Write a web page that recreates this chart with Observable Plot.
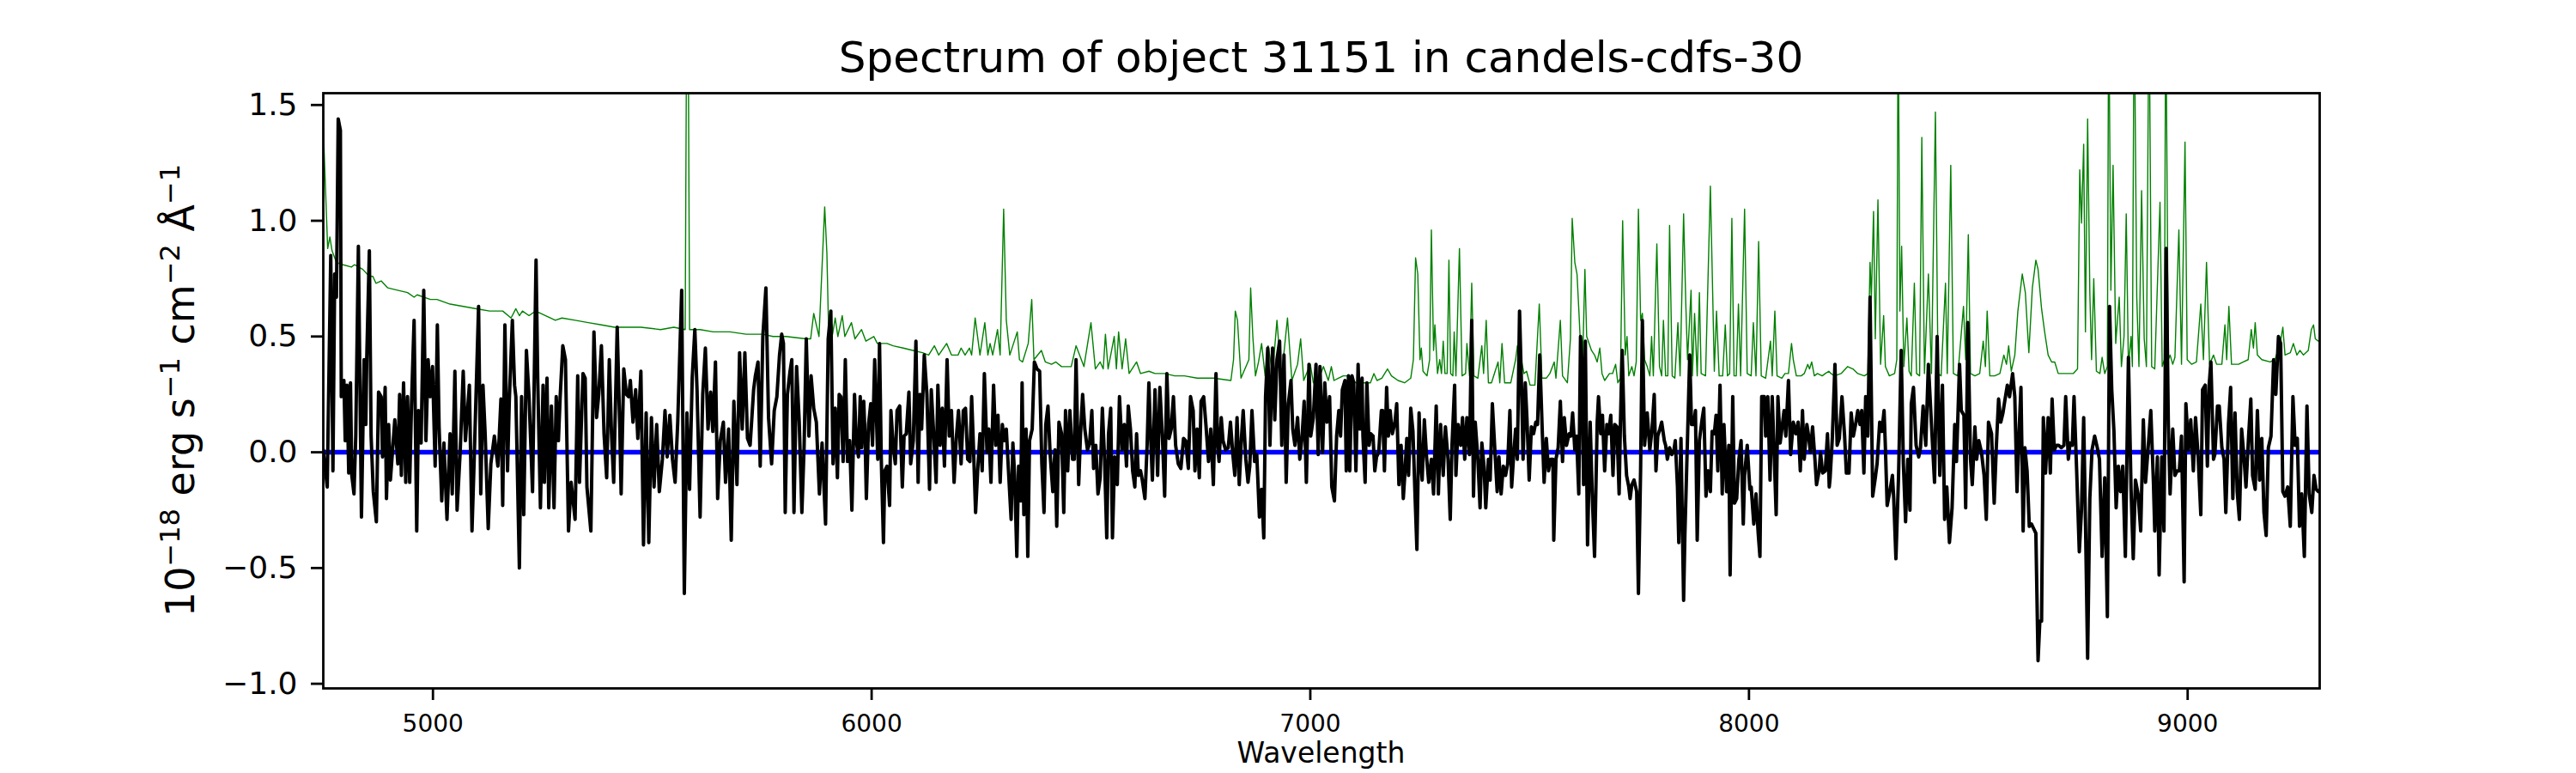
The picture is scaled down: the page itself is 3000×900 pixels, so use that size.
<!DOCTYPE html>
<html><head><meta charset="utf-8">
<script src="https://cdn.jsdelivr.net/npm/d3@7"></script>
<script src="https://cdn.jsdelivr.net/npm/@observablehq/plot@0.6"></script>
<style>html,body{margin:0;padding:0;background:#fff}</style>
</head><body><div id="chart"></div>
<script>
const titleText = "Spectrum of object 31151 in candels-cdfs-30";
const xLabelText = "Wavelength";
const xTicks = [5000, 6000, 7000, 8000, 9000];
const yTicks = [-1, -0.5, 0, 0.5, 1, 1.5];
const xDomain = [4750, 9301];
const yDomain = [-1.02, 1.551];

// black: observed flux [wavelength, flux]
const spectrumFlux = [
[4750,0.01],[4759,-0.15],[4767,0.85],[4772,-0.08],[4776,0.77],[4780,0.67],[4784,1.44],[4789,1.39],[4791,0.24],[4797,0.31],
[4800,0.05],[4804,0.29],[4808,-0.09],[4812,0.30],[4815,-0.10],[4820,-0.18],[4824,0.07],[4830,0.89],[4837,-0.28],[4843,0.40],
[4847,0.12],[4849,0.40],[4855,0.87],[4859,0.07],[4864,-0.17],[4871,-0.30],[4876,0.26],[4882,0.24],[4885,-0.02],[4891,0.28],
[4894,-0.20],[4899,0.12],[4903,-0.12],[4913,0.14],[4920,-0.05],[4924,0.25],[4928,-0.10],[4933,0.30],[4938,-0.13],[4942,0.24],
[4947,-0.13],[4951,0.20],[4957,0.57],[4963,-0.34],[4967,0.18],[4973,0.04],[4979,0.70],[4984,0.05],[4989,0.40],[4994,0.24],
[4999,0.37],[5005,-0.06],[5010,0.55],[5014,0.11],[5020,-0.21],[5025,0.04],[5032,-0.29],[5039,0.08],[5044,-0.18],[5050,0.35],
[5055,-0.25],[5062,0.00],[5069,0.35],[5074,0.05],[5083,0.29],[5089,-0.34],[5094,-0.03],[5104,0.63],[5109,-0.18],[5114,0.29],
[5119,0.08],[5126,-0.33],[5132,-0.05],[5140,0.07],[5148,-0.06],[5155,0.23],[5159,-0.23],[5164,0.55],[5170,-0.08],[5174,0.22],
[5181,0.57],[5186,0.29],[5189,0.24],[5197,-0.50],[5202,0.24],[5207,-0.27],[5213,0.44],[5219,0.24],[5227,-0.17],[5235,0.83],
[5239,0.30],[5245,-0.24],[5251,0.29],[5254,-0.13],[5260,0.32],[5264,-0.24],[5270,0.20],[5276,-0.24],[5281,0.24],[5286,0.05],
[5290,0.24],[5296,0.46],[5302,0.40],[5309,-0.34],[5315,-0.13],[5324,-0.29],[5330,0.33],[5334,-0.13],[5342,0.34],[5347,0.32],
[5351,-0.15],[5360,-0.34],[5367,0.52],[5373,0.15],[5378,0.25],[5384,0.46],[5390,0.08],[5396,-0.11],[5402,0.40],[5407,0.08],
[5412,-0.13],[5420,0.54],[5426,0.10],[5429,-0.18],[5435,0.36],[5441,0.25],[5446,0.24],[5450,0.31],[5456,0.13],[5462,0.27],
[5467,0.06],[5474,0.35],[5480,-0.40],[5486,0.17],[5492,-0.39],[5498,0.15],[5504,-0.15],[5510,0.12],[5516,-0.17],[5523,-0.03],
[5529,0.18],[5534,-0.02],[5540,0.16],[5546,-0.03],[5552,-0.13],[5558,0.13],[5567,0.70],[5573,-0.61],[5579,0.17],[5585,-0.16],
[5591,0.32],[5597,0.53],[5602,0.27],[5609,-0.28],[5615,0.25],[5621,0.45],[5627,0.10],[5633,0.26],[5638,0.09],[5644,0.39],
[5649,-0.20],[5655,0.05],[5662,0.13],[5667,-0.13],[5674,0.10],[5680,-0.38],[5686,0.22],[5693,-0.14],[5699,0.43],[5705,0.10],
[5711,0.43],[5717,0.06],[5723,0.03],[5731,0.27],[5735,0.33],[5741,0.39],[5746,-0.06],[5752,0.50],[5759,0.71],[5765,0.15],
[5772,-0.05],[5778,0.18],[5784,0.24],[5790,0.42],[5795,0.51],[5799,0.47],[5803,-0.26],[5808,0.25],[5814,0.35],[5818,0.40],
[5823,-0.26],[5829,0.37],[5835,0.13],[5841,-0.26],[5846,0.02],[5851,0.49],[5857,0.07],[5862,0.33],[5868,0.19],[5874,0.13],
[5881,-0.18],[5887,0.04],[5895,-0.31],[5901,0.49],[5907,0.61],[5912,-0.05],
[5917,0.19],[5922,-0.11],[5926,0.25],[5930,0.24],[5935,-0.04],[5940,0.40],[5945,-0.04],[5950,0.05],[5955,-0.25],[5961,0.25],
[5965,0.05],[5970,-0.02],[5974,0.24],[5977,0.02],[5982,0.22],[5985,0.07],[5988,-0.20],[5993,0.12],[5998,0.21],[6002,0.03],
[6007,0.40],[6011,0.15],[6014,-0.03],[6018,0.47],[6022,-0.03],[6027,-0.39],[6030,-0.08],[6035,-0.06],[6041,-0.23],[6044,0.18],
[6049,0.03],[6054,-0.05],[6058,0.18],[6064,0.20],[6070,-0.15],[6074,0.07],[6079,0.08],[6085,0.26],[6089,-0.05],[6095,0.05],
[6101,0.48],[6106,-0.13],[6110,0.25],[6114,0.10],[6120,0.42],[6126,0.25],[6132,-0.16],[6136,0.27],[6142,0.06],[6147,-0.13],
[6151,0.29],[6156,0.03],[6161,0.19],[6166,-0.06],[6172,0.40],[6177,0.07],[6182,0.18],[6188,-0.13],[6193,0.06],[6198,0.18],
[6204,-0.05],[6209,0.18],[6214,0.19],[6219,-0.03],[6224,-0.04],[6228,0.24],[6232,0.03],[6237,-0.26],[6242,-0.07],[6247,0.08],
[6252,-0.08],[6257,0.34],[6263,0.00],[6267,0.10],[6272,-0.13],[6278,0.29],[6283,0.03],[6288,0.16],[6293,-0.13],[6298,0.12],
[6302,0.05],[6307,0.10],[6312,-0.08],[6318,-0.29],[6322,0.04],[6326,-0.10],[6331,-0.45],[6335,-0.06],[6340,-0.21],[6343,0.30],
[6347,-0.27],[6352,0.10],[6356,-0.45],[6360,0.05],[6366,0.10],[6371,0.39],[6377,0.36],[6383,0.35],[6388,-0.05],[6393,-0.26],
[6397,0.12],[6402,0.20],[6407,-0.01],[6413,-0.17],[6418,0.01],[6422,-0.32],[6427,0.13],[6433,0.08],[6438,-0.26],[6442,0.18],
[6447,-0.08],[6452,0.18],[6458,-0.03],[6462,-0.03],[6466,0.40],[6472,-0.14],[6476,0.07],[6481,0.25],[6486,0.10],[6492,0.01],
[6497,0.04],[6502,0.18],[6506,-0.07],[6511,0.03],[6516,-0.18],[6521,-0.11],[6526,0.19],[6531,-0.03],[6536,-0.37],[6540,0.08],
[6545,0.19],[6549,-0.37],[6554,-0.02],[6560,-0.14],[6565,0.24],[6571,0.01],[6576,0.12],[6581,-0.06],[6585,0.20],[6590,0.10],
[6595,-0.08],[6600,-0.15],[6604,0.08],[6608,-0.10],[6613,-0.08],[6617,-0.12],[6623,-0.20],[6628,0.03],[6632,0.30],[6636,0.07],
[6640,-0.12],[6646,0.27],[6652,-0.10],[6657,0.28],[6663,0.06],[6668,-0.19],[6673,0.34],[6678,0.06],[6683,0.10],[6688,0.24],
[6693,0.03],[6699,-0.05],[6705,-0.07],[6711,0.06],[6716,0.05],[6722,-0.07],[6727,0.24],[6733,0.18],[6737,-0.08],[6742,0.10],
[6747,-0.11],[6751,0.22],[6757,0.24],[6762,0.12],[6768,-0.04],[6773,0.10],[6779,-0.14],[6785,0.34],[6789,0.02],[6792,-0.04],
[6797,0.15],[6801,0.05],[6807,0.01],[6813,0.02],[6818,0.13],[6823,0.00],[6828,-0.10],[6833,0.15],[6838,-0.14],[6843,0.06],
[6847,0.18],[6853,-0.03],[6858,-0.13],[6862,-0.06],[6867,0.18],[6873,-0.04],[6878,-0.01],[6884,-0.28],[6889,-0.16],[6894,-0.37],
[6898,0.24],[6903,0.45],[6908,0.03],[6914,0.45],[6919,0.14],[6924,0.40],[6930,0.48],[6935,0.03],[6940,0.42],[6945,-0.13],
[6950,0.21],[6956,0.31],[6960,0.10],[6965,0.03],[6971,0.15],[6976,-0.03],[6981,0.06],[6986,0.22],[6991,-0.13],[6997,0.38],
[7001,0.07],[7007,0.15],[7013,0.38],[7018,-0.01],[7022,0.37],[7028,0.00],[7033,0.30],[7038,0.13],[7044,0.24],[7049,-0.15],
[7055,-0.21],[7060,0.07],[7065,0.18],[7069,0.07],[7073,0.27],[7079,0.31],[7082,-0.08],[7087,0.33],[7090,-0.08],[7095,0.33],
[7099,0.30],[7104,-0.08],[7109,0.38],[7113,0.10],[7118,0.32],[7120,0.07],[7125,-0.13],[7129,0.30],[7134,0.03],[7138,0.08],
[7143,0.07],[7147,-0.08],[7151,-0.02],[7156,0.00],[7162,0.18],[7165,0.18],[7169,-0.08],[7174,0.28],[7178,0.07],[7182,0.18],
[7187,0.08],[7193,0.13],[7197,0.21],[7202,-0.14],[7207,0.03],[7212,-0.20],[7216,-0.08],[7220,0.06],[7224,-0.10],[7229,0.19],
[7234,0.09],[7239,-0.20],[7243,-0.42],[7248,0.17],[7251,-0.02],[7255,-0.12],[7260,0.14],[7265,-0.02],[7270,-0.13],[7276,-0.03],
[7281,-0.18],[7287,0.20],[7292,-0.18],[7297,0.12],[7303,-0.10],[7308,0.11],[7314,-0.03],[7319,-0.29],[7323,0.03],[7329,0.29],
[7332,-0.10],[7337,0.12],[7343,0.03],[7347,0.15],[7352,-0.03],[7357,0.15],[7363,-0.01],[7368,0.57],[7372,-0.19],[7376,0.13],
[7382,-0.03],[7387,-0.24],[7391,0.04],[7396,-0.06],[7400,-0.24],[7406,-0.03],[7410,-0.12],[7415,0.21],[7421,0.00],[7426,-0.17],
[7430,-0.02],[7435,-0.18],[7440,-0.06],[7445,-0.10],[7450,-0.05],[7455,0.18],[7459,-0.15],[7463,-0.03],[7468,0.10],[7472,-0.03],
[7477,0.61],[7482,0.25],[7485,-0.03],[7490,0.30],[7494,0.14],[7499,-0.12],[7504,0.11],[7509,0.08],[7514,0.13],[7518,0.12],
[7523,0.42],[7529,0.08],[7533,-0.13],[7538,0.06],[7543,-0.08],[7548,-0.03],[7553,-0.03],[7555,-0.38],[7560,-0.03],[7565,0.02],
[7570,0.22],[7575,-0.04],[7579,0.15],[7584,0.03],[7590,0.08],[7594,0.07],[7598,0.17],[7603,0.01],[7607,0.07],[7612,-0.18],
[7616,0.50],[7619,0.40],[7623,-0.14],[7627,0.48],[7632,-0.40],[7638,0.13],[7643,-0.20],[7648,-0.45],[7654,0.13],[7657,0.24],
[7662,0.08],[7666,0.16],[7671,-0.08],[7676,0.12],[7680,0.08],[7685,0.16],[7690,-0.10],[7694,0.12],[7699,0.11],[7704,-0.18],
[7707,0.13],[7711,0.44],[7716,0.07],[7721,-0.10],[7726,-0.15],[7729,-0.20],[7733,-0.14],[7738,-0.12],[7744,-0.17],[7748,-0.61],
[7753,-0.07],[7757,0.57],[7762,0.03],[7768,0.17],[7774,0.01],[7779,0.10],[7784,0.25],[7788,-0.08],[7792,0.07],[7797,0.10],
[7801,0.13],[7807,0.05],[7810,0.03],[7814,-0.03],[7819,0.02],[7824,-0.01],[7829,0.01],[7832,0.05],[7837,-0.15],[7840,-0.39],
[7845,0.06],[7851,-0.64],[7854,-0.35],[7860,0.07],[7865,0.42],[7869,0.12],[7874,0.12],[7878,0.18],[7882,-0.38],[7887,0.05],
[7893,0.14],[7897,0.19],[7902,-0.19],[7907,-0.08],[7912,-0.17],[7916,0.09],[7921,0.08],[7925,0.16],[7929,-0.08],[7934,0.29],
[7939,-0.18],[7943,0.12],[7949,-0.17],[7954,0.03],[7957,-0.53],[7963,0.24],[7967,-0.22],[7972,-0.20],[7977,-0.03],[7982,0.05],
[7987,-0.31],[7990,-0.10],[7996,0.03],[8002,-0.16],[8005,-0.15],[8011,-0.31],[8016,-0.18],[8021,-0.35],[8025,-0.45],[8029,0.24],
[8035,0.24],[8038,0.07],[8043,0.24],[8048,-0.12],[8053,0.24],[8057,0.02],[8062,-0.27],[8066,0.24],[8071,0.04],[8075,0.10],
[8080,0.18],[8084,0.07],[8090,0.31],[8095,-0.01],[8101,0.13],[8107,0.08],[8112,0.13],[8117,-0.08],[8122,0.18],[8126,-0.03],
[8132,0.12],[8136,0.07],[8140,0.00],[8145,0.11],[8150,-0.02],[8154,-0.14],[8160,-0.08],[8163,0.00],[8168,-0.09],[8174,-0.08],
[8179,0.08],[8183,-0.15],[8185,-0.11],[8190,0.06],[8196,0.38],[8201,0.03],[8206,0.06],[8212,0.24],[8218,0.07],[8222,-0.09],
[8228,-0.09],[8233,0.17],[8238,0.07],[8243,0.12],[8248,0.18],[8253,0.12],[8257,0.18],[8262,-0.09],[8266,0.24],[8271,0.07],
[8276,0.67],[8282,-0.19],[8288,-0.11],[8292,-0.05],[8298,0.13],[8303,0.09],[8308,0.18],[8311,0.02],[8315,-0.23],[8321,-0.17],
[8327,-0.10],[8330,-0.20],[8335,-0.46],[8341,-0.10],[8347,0.44],[8352,-0.05],[8357,-0.30],[8362,-0.03],[8367,-0.25],[8370,0.21],
[8375,0.28],[8381,0.03],[8387,-0.02],[8391,0.02],[8397,0.20],[8403,0.03],[8409,0.38],[8416,0.12],[8423,-0.13],[8429,0.50],
[8435,-0.10],[8441,0.29],[8446,-0.29],[8451,-0.15],[8457,-0.39],[8463,-0.24],[8469,0.12],[8473,-0.04],[8480,0.38],[8484,0.18],
[8490,0.16],[8494,-0.24],[8499,0.56],[8505,-0.03],[8509,-0.14],[8515,0.11],[8519,-0.03],[8524,0.05],[8530,0.00],[8536,-0.10],
[8541,-0.29],[8546,0.13],[8553,0.08],[8559,-0.22],[8564,0.03],[8569,0.23],[8574,0.13],[8579,0.17],[8583,0.22],[8589,0.29],
[8594,0.24],[8601,0.34],[8606,0.24],[8611,-0.17],[8616,0.10],[8620,0.28],[8625,-0.34],[8629,0.02],[8634,-0.08],[8639,-0.32],
[8644,-0.31],[8649,-0.33],[8654,-0.35],[8659,-0.90],[8663,-0.73],[8667,-0.73],[8671,0.15],[8676,-0.09],[8682,0.15],[8687,-0.09],
[8691,0.23],[8696,0.01],[8701,0.03],[8706,0.03],[8712,0.02],[8718,0.03],[8722,0.24],[8728,-0.03],[8732,0.04],[8737,0.03],
[8741,0.24],[8747,-0.08],[8753,-0.43],[8758,-0.25],[8763,0.15],[8767,-0.29],[8772,-0.89],[8777,-0.20],[8782,0.01],[8788,0.07],
[8794,0.02],[8799,-0.03],[8805,-0.45],[8811,-0.11],[8817,-0.71],[8822,0.63],[8827,0.27],[8832,0.09],[8837,-0.24],[8842,-0.06],
[8847,-0.17],[8852,-0.06],[8858,-0.45],[8865,0.41],[8871,-0.16],[8876,-0.46],[8881,-0.12],[8887,-0.18],[8893,-0.34],[8899,0.14],
[8904,-0.13],[8910,0.02],[8916,0.18],[8922,-0.13],[8925,-0.34],[8931,-0.02],[8935,-0.53],[8941,-0.02],[8946,-0.34],[8951,0.88],
[8956,0.12],[8960,-0.18],[8966,0.10],[8971,-0.10],[8976,-0.08],[8981,-0.08],[8986,0.07],[8992,-0.56],[8996,0.21],[9002,0.01],
[9007,0.14],[9013,-0.08],[9018,0.15],[9024,-0.02],[9030,-0.27],[9034,0.27],[9040,0.29],[9045,-0.06],[9049,0.29],[9053,0.39],
[9059,-0.03],[9062,-0.01],[9068,0.20],[9072,0.20],[9078,0.02],[9083,-0.03],[9087,-0.26],[9093,0.12],[9098,0.28],[9103,-0.20],
[9108,0.17],[9113,-0.17],[9118,-0.29],[9123,0.10],[9128,-0.01],[9133,-0.15],[9139,0.07],[9144,0.23],[9148,-0.10],[9154,-0.16],
[9159,0.18],[9164,-0.12],[9169,0.06],[9174,-0.26],[9179,-0.36],[9184,0.02],[9190,0.07],[9196,0.40],[9201,0.25],[9207,0.50],
[9212,0.47],[9217,-0.17],[9222,-0.19],[9228,-0.15],[9234,-0.32],[9240,0.24],[9245,0.03],[9250,0.06],[9255,-0.32],[9260,-0.18],
[9266,-0.45],[9272,0.20],[9277,-0.18],[9283,-0.26],[9288,-0.10],[9293,-0.16],[9298,-0.17]
];

// green: noise / sky spectrum [wavelength, flux]
const noiseFlux = [
[4750,1.40],[4760,0.88],[4765,0.93],[4770,0.87],[4780,0.82],[4795,0.81],[4814,0.80],[4821,0.81],[4840,0.79],[4855,0.76],
[4863,0.76],[4870,0.73],[4882,0.74],[4897,0.71],[4919,0.70],[4942,0.69],[4957,0.67],[4964,0.68],[4994,0.66],[5009,0.66],
[5024,0.65],[5039,0.64],[5069,0.63],[5099,0.62],[5129,0.61],[5159,0.61],[5178,0.58],[5189,0.62],[5197,0.59],[5204,0.61],
[5219,0.59],[5234,0.61],[5257,0.59],[5279,0.57],[5294,0.58],[5324,0.57],[5354,0.56],[5384,0.55],[5414,0.54],[5444,0.54],
[5474,0.54],[5519,0.53],[5549,0.54],[5575,0.53],[5580,2.60],[5585,0.53],[5591,0.53],[5609,0.53],[5639,0.52],[5677,0.52],
[5714,0.51],[5752,0.51],[5775,0.50],[5805,0.50],[5850,0.49],[5861,0.49],[5868,0.60],[5880,0.50],[5893,1.06],[5898,0.86],
[5902,0.52],[5906,0.61],[5911,0.51],[5917,0.58],[5923,0.50],[5933,0.59],[5939,0.50],[5954,0.56],[5962,0.49],[5977,0.53],
[5987,0.48],[6005,0.50],[6013,0.47],[6035,0.47],[6049,0.46],[6072,0.45],[6094,0.44],[6116,0.43],[6130,0.42],[6143,0.46],
[6153,0.42],[6171,0.47],[6182,0.42],[6197,0.42],[6204,0.45],[6213,0.42],[6223,0.45],[6228,0.42],[6236,0.58],[6247,0.42],
[6258,0.56],[6265,0.42],[6270,0.47],[6276,0.42],[6287,0.53],[6293,0.42],[6301,1.05],[6307,0.57],[6315,0.42],[6332,0.52],
[6337,0.40],[6344,0.39],[6357,0.47],[6365,0.66],[6370,0.40],[6387,0.44],[6396,0.39],[6410,0.38],[6420,0.39],[6433,0.37],
[6455,0.37],[6466,0.46],[6484,0.37],[6500,0.56],[6510,0.36],[6521,0.39],[6528,0.36],[6533,0.51],[6539,0.36],[6553,0.50],
[6558,0.36],[6563,0.52],[6571,0.36],[6579,0.49],[6587,0.34],[6604,0.39],[6613,0.34],[6632,0.35],[6646,0.34],[6668,0.34],
[6691,0.33],[6713,0.33],[6742,0.32],[6779,0.32],[6819,0.31],[6825,0.40],[6829,0.61],[6834,0.57],[6842,0.32],[6860,0.40],
[6864,0.71],[6869,0.50],[6875,0.33],[6882,0.39],[6889,0.47],[6897,0.33],[6904,0.46],[6914,0.34],[6924,0.57],[6934,0.32],
[6948,0.58],[6958,0.31],[6971,0.38],[6978,0.49],[6985,0.31],[7000,0.38],[7007,0.30],[7022,0.33],[7030,0.37],[7041,0.31],
[7048,0.37],[7054,0.31],[7064,0.32],[7075,0.33],[7090,0.33],[7104,0.30],[7119,0.30],[7137,0.30],[7145,0.34],[7152,0.31],
[7163,0.32],[7176,0.36],[7185,0.33],[7200,0.31],[7215,0.30],[7229,0.32],[7235,0.40],[7240,0.84],[7245,0.77],[7250,0.40],
[7253,0.45],[7257,0.35],[7266,0.33],[7272,0.40],[7276,0.96],[7281,0.44],[7284,0.55],[7290,0.34],[7295,0.40],[7299,0.34],
[7303,0.48],[7307,0.34],[7312,0.34],[7316,0.83],[7320,0.34],[7325,0.33],[7328,0.52],[7332,0.33],[7340,0.88],[7346,0.33],
[7354,0.34],[7357,0.47],[7363,0.33],[7368,0.73],[7373,0.33],[7382,0.32],[7391,0.46],[7395,0.34],[7401,0.57],[7406,0.30],
[7413,0.30],[7428,0.39],[7432,0.30],[7437,0.47],[7443,0.30],[7457,0.30],[7468,0.40],[7472,0.46],[7479,0.42],[7487,0.34],
[7493,0.35],[7501,0.29],[7512,0.29],[7522,0.64],[7528,0.32],[7538,0.32],[7546,0.34],[7556,0.39],[7560,0.32],[7570,0.57],
[7575,0.33],[7586,0.30],[7593,0.49],[7597,1.01],[7603,0.82],[7608,0.77],[7612,0.62],[7615,0.50],[7621,0.40],[7626,0.79],
[7630,0.50],[7641,0.44],[7648,0.42],[7654,0.39],[7660,0.45],[7665,0.34],[7671,0.31],[7682,0.34],[7689,0.34],[7696,0.38],
[7701,0.30],[7707,0.32],[7712,1.00],[7718,0.42],[7722,0.50],[7726,0.33],[7733,0.37],[7738,0.33],[7743,0.39],[7748,1.05],
[7753,0.57],[7757,0.60],[7762,0.40],[7768,0.37],[7774,0.33],[7778,0.50],[7782,0.33],[7790,0.90],[7796,0.37],[7801,0.33],
[7805,0.57],[7810,0.33],[7815,0.33],[7819,0.98],[7825,0.33],[7831,0.32],[7838,0.56],[7843,0.33],[7851,1.03],[7856,0.64],
[7860,0.40],[7868,0.70],[7871,0.33],[7876,0.60],[7882,0.33],[7887,0.69],[7891,0.34],[7901,0.33],[7912,1.15],[7917,0.71],
[7921,0.35],[7926,0.61],[7932,0.33],[7940,0.33],[7946,0.55],[7951,0.33],[7956,0.34],[7961,1.01],[7966,0.33],[7971,0.33],
[7976,0.64],[7981,0.33],[7990,1.05],[7996,0.34],[8005,0.33],[8010,0.56],[8016,0.33],[8022,0.91],[8028,0.33],[8038,0.32],
[8049,0.48],[8053,0.33],[8059,0.61],[8064,0.33],[8075,0.32],[8082,0.34],[8090,0.34],[8097,0.47],[8101,0.40],[8108,0.33],
[8119,0.33],[8126,0.34],[8134,0.38],[8138,0.36],[8143,0.39],[8149,0.33],[8156,0.34],[8167,0.33],[8174,0.34],[8182,0.35],
[8187,0.34],[8195,0.33],[8210,0.34],[8225,0.37],[8237,0.36],[8248,0.34],[8263,0.33],[8271,0.34],[8276,0.82],[8279,0.67],
[8284,1.04],[8288,0.49],[8294,1.09],[8300,0.38],[8307,0.59],[8311,0.37],[8320,0.33],[8332,0.34],[8337,0.40],[8340,2.00],
[8344,0.61],[8348,0.89],[8353,0.37],[8360,0.58],[8365,0.35],[8370,0.33],[8377,0.73],[8382,0.34],[8389,0.33],[8394,1.36],
[8400,0.34],[8409,0.77],[8416,0.34],[8425,1.47],[8431,0.34],[8438,0.33],[8448,0.73],[8452,0.34],[8460,1.24],[8466,0.34],
[8476,0.33],[8489,0.63],[8494,0.40],[8500,0.94],[8505,0.34],[8515,0.33],[8526,0.34],[8534,0.48],[8539,0.37],[8543,0.61],
[8549,0.33],[8560,0.33],[8572,0.34],[8581,0.42],[8587,0.38],[8592,0.46],[8598,0.35],[8606,0.42],[8613,0.61],[8623,0.77],
[8630,0.69],[8638,0.43],[8646,0.71],[8654,0.83],[8659,0.79],[8667,0.62],[8674,0.52],[8682,0.42],[8690,0.39],[8697,0.39],
[8705,0.34],[8716,0.34],[8728,0.34],[8739,0.34],[8749,0.36],[8754,1.22],[8758,0.99],[8763,1.33],[8767,0.52],[8772,1.44],
[8777,0.69],[8781,0.40],[8786,0.75],[8792,0.35],[8800,0.34],[8805,0.41],[8811,0.34],[8817,0.37],[8820,2.00],[8825,0.70],
[8830,1.24],[8836,0.47],[8844,0.67],[8849,0.37],[8855,0.50],[8860,1.03],[8865,0.37],[8871,0.50],[8874,0.37],[8878,2.00],
[8884,0.67],[8889,0.37],[8895,1.13],[8901,0.49],[8906,0.37],[8912,2.00],[8918,0.37],[8925,0.36],[8937,1.08],[8942,0.37],
[8947,0.40],[8950,2.00],[8956,0.40],[8960,0.42],[8966,0.38],[8971,0.41],[8980,0.96],[8986,0.38],[8994,1.34],[8999,0.40],
[9009,0.38],[9020,0.39],[9030,0.64],[9036,0.40],[9043,0.82],[9050,0.38],[9059,0.42],[9066,0.38],[9078,0.38],[9085,0.55],
[9089,0.40],[9094,0.63],[9100,0.38],[9116,0.38],[9127,0.39],[9138,0.40],[9145,0.53],[9150,0.45],[9154,0.56],[9159,0.42],
[9169,0.40],[9188,0.39],[9199,0.40],[9211,0.47],[9217,0.54],[9222,0.42],[9234,0.43],[9241,0.47],[9249,0.42],[9256,0.44],
[9264,0.42],[9275,0.44],[9282,0.53],[9287,0.55],[9291,0.49],[9298,0.48]
];

// blue: model [wavelength, flux]
const modelFlux = [[4750,0],[9299,0]];

const toRows = pts => pts.map(([w, f]) => ({w, f}));

const M = {top: 108, right: 299, bottom: 99, left: 376};
const W = 3000, H = 900;

const svg = Plot.plot({
  width: W, height: H,
  marginTop: M.top, marginRight: M.right, marginBottom: M.bottom, marginLeft: M.left,
  style: {fontFamily: "DejaVu Sans", background: "white", color: "black", overflow: "visible"},
  x: {domain: xDomain},
  y: {domain: yDomain},
  marks: [
    Plot.line(toRows(noiseFlux), {x: "w", y: "f", stroke: "green", strokeWidth: 1.4, clip: true}),
    Plot.line(toRows(modelFlux), {x: "w", y: "f", stroke: "blue", strokeWidth: 5.5, clip: true}),
    Plot.line(toRows(spectrumFlux), {x: "w", y: "f", stroke: "black", strokeWidth: 4, clip: true}),
    Plot.axisX({ticks: xTicks, tickSize: 14, tickPadding: 17, fontSize: 28, strokeWidth: 2.8, label: null, tickFormat: d => String(d)}),
    Plot.axisY({ticks: yTicks, tickSize: 14, tickPadding: 16, fontSize: 36, strokeWidth: 2.8, label: null, tickFormat: d3.format(".1f")}),
    Plot.frame({stroke: "black", strokeWidth: 2.8})
  ]
});
document.getElementById("chart").appendChild(svg);

const s = d3.select(svg);
s.selectAll('[aria-label="x-axis tick label"]').attr("font-size", 28);
s.selectAll('[aria-label="y-axis tick label"]').attr("font-size", 36);

const cx = M.left + (W - M.left - M.right) / 2;
s.append("text").attr("x", cx).attr("y", 84).attr("text-anchor", "middle")
  .attr("font-family", "DejaVu Sans").attr("font-size", 50).attr("fill", "black").text(titleText);
s.append("text").attr("x", cx).attr("y", 888).attr("text-anchor", "middle")
  .attr("font-family", "DejaVu Sans").attr("font-size", 33).attr("fill", "black").text(xLabelText);

const yLabelParts = [["10", false], ["\u221218", true], [" erg s", false], ["\u22121", true], [" cm", false], ["\u22122", true], [" \u00C5", false], ["\u22121", true]];
const yl = s.append("text").attr("transform", `translate(226,${M.top + (H - M.top - M.bottom) / 2}) rotate(-90)`)
  .attr("text-anchor", "middle").attr("font-family", "DejaVu Sans").attr("font-size", 46).attr("fill", "black");
let raised = false;
for (const [t, sup] of yLabelParts) {
  const ts = yl.append("tspan").text(t);
  if (sup) { ts.attr("font-size", 32).attr("dy", raised ? 0 : -17); raised = true; }
  else { ts.attr("dy", raised ? 17 : 0); raised = false; }
}
</script>
</body></html>
